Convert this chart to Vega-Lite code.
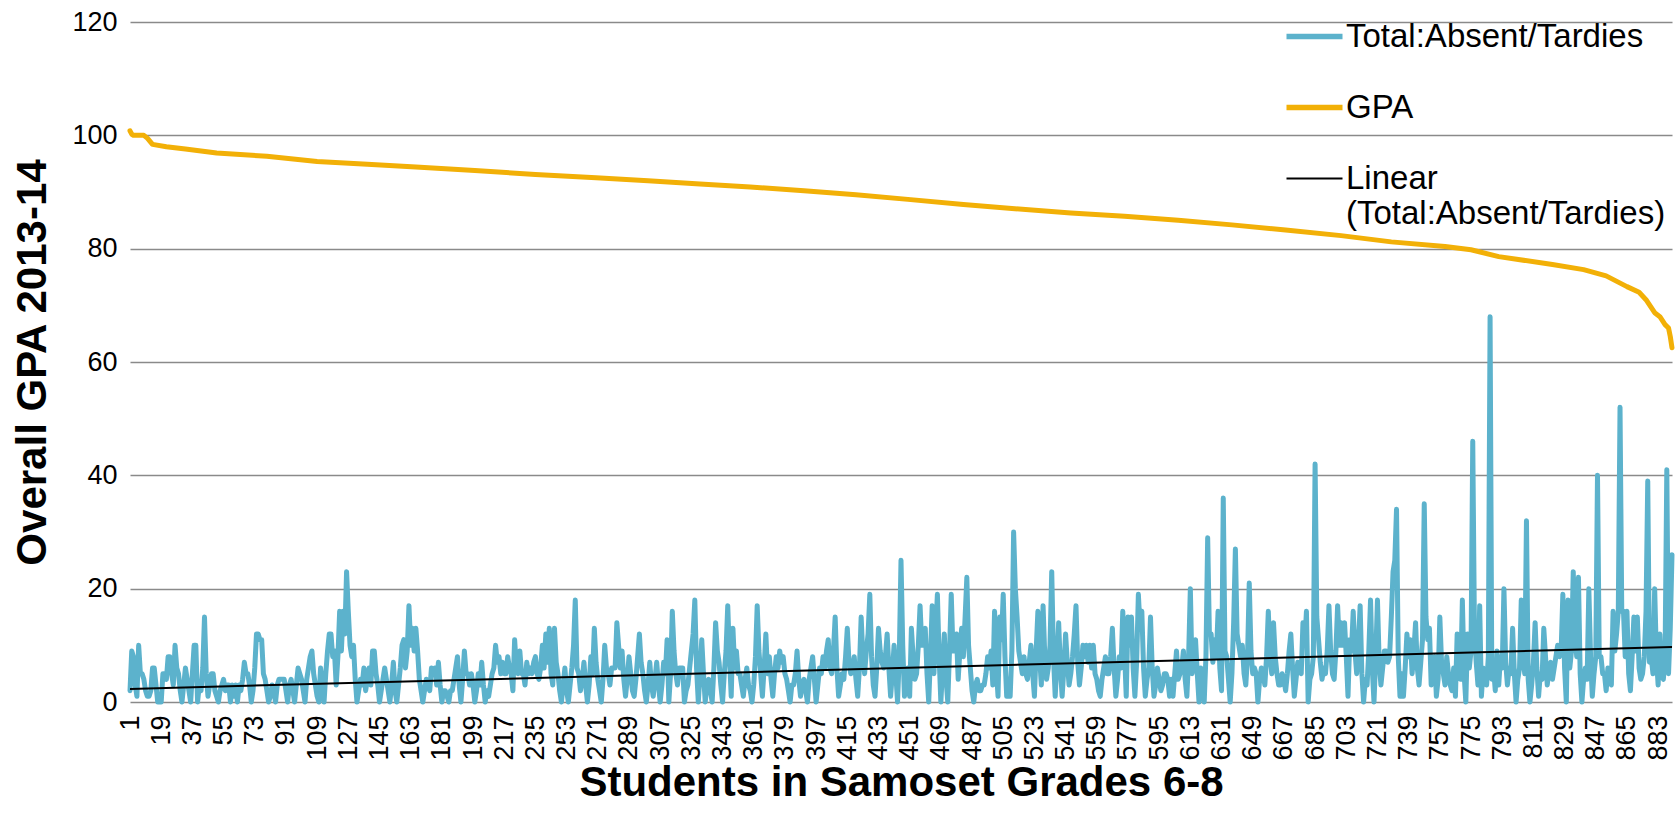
{
"$schema":"https://vega.github.io/schema/vega-lite/v6.json",
"autosize":"none",
"width":1542,"height":680,
"padding":{"left":130,"top":22,"right":7,"bottom":112},
"background":"white",
"config":{"view":{"stroke":null},"font":"Liberation Sans"},
"datasets":{
"abs":[{"i":1,"v":2},{"i":2,"v":9},{"i":3,"v":8},{"i":4,"v":3},{"i":5,"v":1},{"i":6,"v":10},{"i":7,"v":5},{"i":8,"v":5},{"i":9,"v":4},{"i":10,"v":2},
{"i":11,"v":1},{"i":12,"v":1},{"i":13,"v":2},{"i":14,"v":6},{"i":15,"v":6},{"i":16,"v":3},{"i":17,"v":0},{"i":18,"v":0},{"i":19,"v":0},{"i":20,"v":5},
{"i":21,"v":5},{"i":22,"v":4},{"i":23,"v":8},{"i":24,"v":8},{"i":25,"v":5},{"i":26,"v":3},{"i":27,"v":10},{"i":28,"v":6},{"i":29,"v":5},{"i":30,"v":2},
{"i":31,"v":0},{"i":32,"v":3},{"i":33,"v":6},{"i":34,"v":4},{"i":35,"v":2},{"i":36,"v":0},{"i":37,"v":5},{"i":38,"v":10},{"i":39,"v":10},{"i":40,"v":0},
{"i":41,"v":3},{"i":42,"v":2},{"i":43,"v":6},{"i":44,"v":15},{"i":45,"v":5},{"i":46,"v":1},{"i":47,"v":3},{"i":48,"v":5},{"i":49,"v":5},{"i":50,"v":2},
{"i":51,"v":1},{"i":52,"v":0},{"i":53,"v":2},{"i":54,"v":3},{"i":55,"v":4},{"i":56,"v":2},{"i":57,"v":3},{"i":58,"v":3},{"i":59,"v":0},{"i":60,"v":3},
{"i":61,"v":1},{"i":62,"v":3},{"i":63,"v":0},{"i":64,"v":3},{"i":65,"v":2},{"i":66,"v":4},{"i":67,"v":7},{"i":68,"v":5},{"i":69,"v":5},{"i":70,"v":3},
{"i":71,"v":0},{"i":72,"v":2},{"i":73,"v":6},{"i":74,"v":12},{"i":75,"v":12},{"i":76,"v":11},{"i":77,"v":11},{"i":78,"v":5},{"i":79,"v":4},{"i":80,"v":2},
{"i":81,"v":0},{"i":82,"v":1},{"i":83,"v":3},{"i":84,"v":2},{"i":85,"v":0},{"i":86,"v":3},{"i":87,"v":4},{"i":88,"v":4},{"i":89,"v":4},{"i":90,"v":4},
{"i":91,"v":2},{"i":92,"v":0},{"i":93,"v":3},{"i":94,"v":4},{"i":95,"v":2},{"i":96,"v":0},{"i":97,"v":3},{"i":98,"v":6},{"i":99,"v":5},{"i":100,"v":4},
{"i":101,"v":2},{"i":102,"v":0},{"i":103,"v":4},{"i":104,"v":6},{"i":105,"v":8},{"i":106,"v":9},{"i":107,"v":5},{"i":108,"v":3},{"i":109,"v":1},{"i":110,"v":0},
{"i":111,"v":6},{"i":112,"v":3},{"i":113,"v":0},{"i":114,"v":5},{"i":115,"v":9},{"i":116,"v":12},{"i":117,"v":12},{"i":118,"v":8},{"i":119,"v":9},{"i":120,"v":3},
{"i":121,"v":8},{"i":122,"v":16},{"i":123,"v":9},{"i":124,"v":16},{"i":125,"v":12},{"i":126,"v":23},{"i":127,"v":16},{"i":128,"v":10},{"i":129,"v":8},{"i":130,"v":10},
{"i":131,"v":4},{"i":132,"v":0},{"i":133,"v":2},{"i":134,"v":4},{"i":135,"v":3},{"i":136,"v":6},{"i":137,"v":2},{"i":138,"v":4},{"i":139,"v":6},{"i":140,"v":3},
{"i":141,"v":9},{"i":142,"v":9},{"i":143,"v":5},{"i":144,"v":3},{"i":145,"v":0},{"i":146,"v":2},{"i":147,"v":4},{"i":148,"v":6},{"i":149,"v":4},{"i":150,"v":2},
{"i":151,"v":0},{"i":152,"v":3},{"i":153,"v":7},{"i":154,"v":2},{"i":155,"v":0},{"i":156,"v":3},{"i":157,"v":6},{"i":158,"v":10},{"i":159,"v":11},{"i":160,"v":6},
{"i":161,"v":9},{"i":162,"v":17},{"i":163,"v":10},{"i":164,"v":13},{"i":165,"v":9},{"i":166,"v":13},{"i":167,"v":9},{"i":168,"v":4},{"i":169,"v":2},{"i":170,"v":0},
{"i":171,"v":2},{"i":172,"v":4},{"i":173,"v":3},{"i":174,"v":2},{"i":175,"v":6},{"i":176,"v":5},{"i":177,"v":6},{"i":178,"v":3},{"i":179,"v":7},{"i":180,"v":3},
{"i":181,"v":0},{"i":182,"v":2},{"i":183,"v":2},{"i":184,"v":1},{"i":185,"v":0},{"i":186,"v":2},{"i":187,"v":2},{"i":188,"v":4},{"i":189,"v":6},{"i":190,"v":8},
{"i":191,"v":3},{"i":192,"v":0},{"i":193,"v":4},{"i":194,"v":9},{"i":195,"v":5},{"i":196,"v":5},{"i":197,"v":3},{"i":198,"v":5},{"i":199,"v":3},{"i":200,"v":0},
{"i":201,"v":2},{"i":202,"v":5},{"i":203,"v":3},{"i":204,"v":7},{"i":205,"v":3},{"i":206,"v":0},{"i":207,"v":2},{"i":208,"v":1},{"i":209,"v":3},{"i":210,"v":5},
{"i":211,"v":6},{"i":212,"v":10},{"i":213,"v":7},{"i":214,"v":8},{"i":215,"v":5},{"i":216,"v":7},{"i":217,"v":5},{"i":218,"v":5},{"i":219,"v":8},{"i":220,"v":6},
{"i":221,"v":5},{"i":222,"v":2},{"i":223,"v":11},{"i":224,"v":6},{"i":225,"v":5},{"i":226,"v":9},{"i":227,"v":5},{"i":228,"v":5},{"i":229,"v":3},{"i":230,"v":7},
{"i":231,"v":5},{"i":232,"v":6},{"i":233,"v":5},{"i":234,"v":7},{"i":235,"v":8},{"i":236,"v":5},{"i":237,"v":4},{"i":238,"v":6},{"i":239,"v":10},{"i":240,"v":6},
{"i":241,"v":12},{"i":242,"v":7},{"i":243,"v":13},{"i":244,"v":5},{"i":245,"v":3},{"i":246,"v":13},{"i":247,"v":7},{"i":248,"v":5},{"i":249,"v":2},{"i":250,"v":0},
{"i":251,"v":3},{"i":252,"v":6},{"i":253,"v":2},{"i":254,"v":0},{"i":255,"v":3},{"i":256,"v":6},{"i":257,"v":10},{"i":258,"v":18},{"i":259,"v":6},{"i":260,"v":5},
{"i":261,"v":2},{"i":262,"v":4},{"i":263,"v":7},{"i":264,"v":3},{"i":265,"v":0},{"i":266,"v":3},{"i":267,"v":8},{"i":268,"v":5},{"i":269,"v":13},{"i":270,"v":7},
{"i":271,"v":4},{"i":272,"v":2},{"i":273,"v":0},{"i":274,"v":4},{"i":275,"v":10},{"i":276,"v":6},{"i":277,"v":5},{"i":278,"v":3},{"i":279,"v":6},{"i":280,"v":6},
{"i":281,"v":6},{"i":282,"v":14},{"i":283,"v":10},{"i":284,"v":6},{"i":285,"v":9},{"i":286,"v":4},{"i":287,"v":1},{"i":288,"v":4},{"i":289,"v":8},{"i":290,"v":5},
{"i":291,"v":2},{"i":292,"v":1},{"i":293,"v":4},{"i":294,"v":8},{"i":295,"v":12},{"i":296,"v":7},{"i":297,"v":5},{"i":298,"v":2},{"i":299,"v":0},{"i":300,"v":3},
{"i":301,"v":7},{"i":302,"v":3},{"i":303,"v":1},{"i":304,"v":4},{"i":305,"v":7},{"i":306,"v":3},{"i":307,"v":0},{"i":308,"v":3},{"i":309,"v":7},{"i":310,"v":5},
{"i":311,"v":11},{"i":312,"v":0},{"i":313,"v":5},{"i":314,"v":16},{"i":315,"v":9},{"i":316,"v":5},{"i":317,"v":3},{"i":318,"v":6},{"i":319,"v":6},{"i":320,"v":6},
{"i":321,"v":0},{"i":322,"v":2},{"i":323,"v":3},{"i":324,"v":6},{"i":325,"v":9},{"i":326,"v":12},{"i":327,"v":18},{"i":328,"v":6},{"i":329,"v":0},{"i":330,"v":5},
{"i":331,"v":11},{"i":332,"v":5},{"i":333,"v":0},{"i":334,"v":3},{"i":335,"v":4},{"i":336,"v":2},{"i":337,"v":0},{"i":338,"v":6},{"i":339,"v":14},{"i":340,"v":9},
{"i":341,"v":7},{"i":342,"v":3},{"i":343,"v":0},{"i":344,"v":5},{"i":345,"v":9},{"i":346,"v":17},{"i":347,"v":8},{"i":348,"v":1},{"i":349,"v":13},{"i":350,"v":6},
{"i":351,"v":9},{"i":352,"v":5},{"i":353,"v":5},{"i":354,"v":3},{"i":355,"v":1},{"i":356,"v":4},{"i":357,"v":6},{"i":358,"v":3},{"i":359,"v":2},{"i":360,"v":0},
{"i":361,"v":3},{"i":362,"v":8},{"i":363,"v":17},{"i":364,"v":9},{"i":365,"v":5},{"i":366,"v":1},{"i":367,"v":6},{"i":368,"v":12},{"i":369,"v":5},{"i":370,"v":8},
{"i":371,"v":4},{"i":372,"v":1},{"i":373,"v":5},{"i":374,"v":8},{"i":375,"v":6},{"i":376,"v":9},{"i":377,"v":7},{"i":378,"v":8},{"i":379,"v":5},{"i":380,"v":4},
{"i":381,"v":2},{"i":382,"v":0},{"i":383,"v":3},{"i":384,"v":3},{"i":385,"v":5},{"i":386,"v":9},{"i":387,"v":4},{"i":388,"v":1},{"i":389,"v":3},{"i":390,"v":4},
{"i":391,"v":2},{"i":392,"v":0},{"i":393,"v":4},{"i":394,"v":6},{"i":395,"v":8},{"i":396,"v":4},{"i":397,"v":0},{"i":398,"v":3},{"i":399,"v":6},{"i":400,"v":5},
{"i":401,"v":8},{"i":402,"v":6},{"i":403,"v":9},{"i":404,"v":11},{"i":405,"v":6},{"i":406,"v":5},{"i":407,"v":9},{"i":408,"v":15},{"i":409,"v":6},{"i":410,"v":1},
{"i":411,"v":3},{"i":412,"v":5},{"i":413,"v":4},{"i":414,"v":8},{"i":415,"v":13},{"i":416,"v":7},{"i":417,"v":5},{"i":418,"v":6},{"i":419,"v":8},{"i":420,"v":4},
{"i":421,"v":1},{"i":422,"v":6},{"i":423,"v":15},{"i":424,"v":8},{"i":425,"v":5},{"i":426,"v":9},{"i":427,"v":12},{"i":428,"v":19},{"i":429,"v":8},{"i":430,"v":3},
{"i":431,"v":1},{"i":432,"v":6},{"i":433,"v":13},{"i":434,"v":9},{"i":435,"v":7},{"i":436,"v":6},{"i":437,"v":8},{"i":438,"v":12},{"i":439,"v":6},{"i":440,"v":1},
{"i":441,"v":5},{"i":442,"v":10},{"i":443,"v":5},{"i":444,"v":0},{"i":445,"v":8},{"i":446,"v":25},{"i":447,"v":10},{"i":448,"v":1},{"i":449,"v":4},{"i":450,"v":6},
{"i":451,"v":1},{"i":452,"v":13},{"i":453,"v":8},{"i":454,"v":4},{"i":455,"v":5},{"i":456,"v":10},{"i":457,"v":17},{"i":458,"v":10},{"i":459,"v":12},{"i":460,"v":13},
{"i":461,"v":5},{"i":462,"v":0},{"i":463,"v":8},{"i":464,"v":17},{"i":465,"v":5},{"i":466,"v":12},{"i":467,"v":19},{"i":468,"v":8},{"i":469,"v":0},{"i":470,"v":6},
{"i":471,"v":12},{"i":472,"v":4},{"i":473,"v":0},{"i":474,"v":9},{"i":475,"v":19},{"i":476,"v":9},{"i":477,"v":11},{"i":478,"v":12},{"i":479,"v":4},{"i":480,"v":9},
{"i":481,"v":13},{"i":482,"v":8},{"i":483,"v":15},{"i":484,"v":22},{"i":485,"v":10},{"i":486,"v":6},{"i":487,"v":2},{"i":488,"v":0},{"i":489,"v":3},{"i":490,"v":4},
{"i":491,"v":2},{"i":492,"v":2},{"i":493,"v":3},{"i":494,"v":3},{"i":495,"v":5},{"i":496,"v":8},{"i":497,"v":6},{"i":498,"v":9},{"i":499,"v":3},{"i":500,"v":16},
{"i":501,"v":6},{"i":502,"v":1},{"i":503,"v":15},{"i":504,"v":11},{"i":505,"v":19},{"i":506,"v":8},{"i":507,"v":1},{"i":508,"v":4},{"i":509,"v":1},{"i":510,"v":9},
{"i":511,"v":30},{"i":512,"v":20},{"i":513,"v":15},{"i":514,"v":9},{"i":515,"v":7},{"i":516,"v":5},{"i":517,"v":8},{"i":518,"v":5},{"i":519,"v":4},{"i":520,"v":7},
{"i":521,"v":10},{"i":522,"v":5},{"i":523,"v":1},{"i":524,"v":9},{"i":525,"v":16},{"i":526,"v":8},{"i":527,"v":3},{"i":528,"v":17},{"i":529,"v":8},{"i":530,"v":4},
{"i":531,"v":6},{"i":532,"v":10},{"i":533,"v":23},{"i":534,"v":8},{"i":535,"v":1},{"i":536,"v":7},{"i":537,"v":14},{"i":538,"v":6},{"i":539,"v":1},{"i":540,"v":6},
{"i":541,"v":12},{"i":542,"v":7},{"i":543,"v":3},{"i":544,"v":5},{"i":545,"v":8},{"i":546,"v":12},{"i":547,"v":17},{"i":548,"v":7},{"i":549,"v":3},{"i":550,"v":6},
{"i":551,"v":10},{"i":552,"v":8},{"i":553,"v":10},{"i":554,"v":7},{"i":555,"v":10},{"i":556,"v":6},{"i":557,"v":10},{"i":558,"v":5},{"i":559,"v":4},{"i":560,"v":2},
{"i":561,"v":1},{"i":562,"v":4},{"i":563,"v":6},{"i":564,"v":8},{"i":565,"v":5},{"i":566,"v":5},{"i":567,"v":8},{"i":568,"v":13},{"i":569,"v":6},{"i":570,"v":1},
{"i":571,"v":4},{"i":572,"v":8},{"i":573,"v":6},{"i":574,"v":16},{"i":575,"v":9},{"i":576,"v":1},{"i":577,"v":15},{"i":578,"v":10},{"i":579,"v":15},{"i":580,"v":6},
{"i":581,"v":1},{"i":582,"v":7},{"i":583,"v":19},{"i":584,"v":13},{"i":585,"v":16},{"i":586,"v":6},{"i":587,"v":1},{"i":588,"v":4},{"i":589,"v":6},{"i":590,"v":15},
{"i":591,"v":6},{"i":592,"v":1},{"i":593,"v":3},{"i":594,"v":6},{"i":595,"v":4},{"i":596,"v":2},{"i":597,"v":3},{"i":598,"v":5},{"i":599,"v":5},{"i":600,"v":4},
{"i":601,"v":1},{"i":602,"v":4},{"i":603,"v":1},{"i":604,"v":5},{"i":605,"v":9},{"i":606,"v":4},{"i":607,"v":5},{"i":608,"v":6},{"i":609,"v":9},{"i":610,"v":4},
{"i":611,"v":1},{"i":612,"v":8},{"i":613,"v":20},{"i":614,"v":5},{"i":615,"v":7},{"i":616,"v":11},{"i":617,"v":5},{"i":618,"v":0},{"i":619,"v":6},{"i":620,"v":3},
{"i":621,"v":0},{"i":622,"v":8},{"i":623,"v":29},{"i":624,"v":12},{"i":625,"v":12},{"i":626,"v":7},{"i":627,"v":11},{"i":628,"v":8},{"i":629,"v":16},{"i":630,"v":6},
{"i":631,"v":2},{"i":632,"v":36},{"i":633,"v":9},{"i":634,"v":8},{"i":635,"v":4},{"i":636,"v":0},{"i":637,"v":5},{"i":638,"v":14},{"i":639,"v":27},{"i":640,"v":12},
{"i":641,"v":10},{"i":642,"v":8},{"i":643,"v":10},{"i":644,"v":5},{"i":645,"v":3},{"i":646,"v":8},{"i":647,"v":21},{"i":648,"v":9},{"i":649,"v":5},{"i":650,"v":6},
{"i":651,"v":5},{"i":652,"v":0},{"i":653,"v":4},{"i":654,"v":6},{"i":655,"v":5},{"i":656,"v":3},{"i":657,"v":8},{"i":658,"v":16},{"i":659,"v":8},{"i":660,"v":5},
{"i":661,"v":14},{"i":662,"v":8},{"i":663,"v":5},{"i":664,"v":3},{"i":665,"v":3},{"i":666,"v":5},{"i":667,"v":4},{"i":668,"v":2},{"i":669,"v":5},{"i":670,"v":9},
{"i":671,"v":12},{"i":672,"v":6},{"i":673,"v":1},{"i":674,"v":4},{"i":675,"v":7},{"i":676,"v":6},{"i":677,"v":5},{"i":678,"v":14},{"i":679,"v":10},{"i":680,"v":16},
{"i":681,"v":0},{"i":682,"v":4},{"i":683,"v":5},{"i":684,"v":8},{"i":685,"v":42},{"i":686,"v":15},{"i":687,"v":11},{"i":688,"v":7},{"i":689,"v":4},{"i":690,"v":6},
{"i":691,"v":5},{"i":692,"v":9},{"i":693,"v":17},{"i":694,"v":9},{"i":695,"v":5},{"i":696,"v":4},{"i":697,"v":9},{"i":698,"v":17},{"i":699,"v":10},{"i":700,"v":14},
{"i":701,"v":10},{"i":702,"v":14},{"i":703,"v":8},{"i":704,"v":1},{"i":705,"v":11},{"i":706,"v":9},{"i":707,"v":16},{"i":708,"v":9},{"i":709,"v":5},{"i":710,"v":10},
{"i":711,"v":17},{"i":712,"v":5},{"i":713,"v":0},{"i":714,"v":4},{"i":715,"v":3},{"i":716,"v":9},{"i":717,"v":18},{"i":718,"v":6},{"i":719,"v":0},{"i":720,"v":8},
{"i":721,"v":18},{"i":722,"v":7},{"i":723,"v":3},{"i":724,"v":6},{"i":725,"v":9},{"i":726,"v":9},{"i":727,"v":7},{"i":728,"v":8},{"i":729,"v":15},{"i":730,"v":23},
{"i":731,"v":25},{"i":732,"v":34},{"i":733,"v":8},{"i":734,"v":1},{"i":735,"v":5},{"i":736,"v":1},{"i":737,"v":6},{"i":738,"v":12},{"i":739,"v":8},{"i":740,"v":11},
{"i":741,"v":5},{"i":742,"v":9},{"i":743,"v":14},{"i":744,"v":6},{"i":745,"v":3},{"i":746,"v":7},{"i":747,"v":11},{"i":748,"v":35},{"i":749,"v":15},{"i":750,"v":11},
{"i":751,"v":13},{"i":752,"v":3},{"i":753,"v":6},{"i":754,"v":8},{"i":755,"v":1},{"i":756,"v":4},{"i":757,"v":15},{"i":758,"v":7},{"i":759,"v":5},{"i":760,"v":3},
{"i":761,"v":8},{"i":762,"v":5},{"i":763,"v":3},{"i":764,"v":2},{"i":765,"v":6},{"i":766,"v":1},{"i":767,"v":12},{"i":768,"v":7},{"i":769,"v":4},{"i":770,"v":18},
{"i":771,"v":5},{"i":772,"v":0},{"i":773,"v":12},{"i":774,"v":6},{"i":775,"v":9},{"i":776,"v":46},{"i":777,"v":12},{"i":778,"v":7},{"i":779,"v":3},{"i":780,"v":17},
{"i":781,"v":1},{"i":782,"v":6},{"i":783,"v":5},{"i":784,"v":3},{"i":785,"v":8},{"i":786,"v":68},{"i":787,"v":4},{"i":788,"v":6},{"i":789,"v":2},{"i":790,"v":9},
{"i":791,"v":3},{"i":792,"v":8},{"i":793,"v":6},{"i":794,"v":20},{"i":795,"v":7},{"i":796,"v":3},{"i":797,"v":6},{"i":798,"v":5},{"i":799,"v":13},{"i":800,"v":5},
{"i":801,"v":0},{"i":802,"v":4},{"i":803,"v":6},{"i":804,"v":18},{"i":805,"v":8},{"i":806,"v":5},{"i":807,"v":32},{"i":808,"v":4},{"i":809,"v":0},{"i":810,"v":3},
{"i":811,"v":7},{"i":812,"v":14},{"i":813,"v":6},{"i":814,"v":1},{"i":815,"v":5},{"i":816,"v":4},{"i":817,"v":13},{"i":818,"v":8},{"i":819,"v":3},{"i":820,"v":6},
{"i":821,"v":7},{"i":822,"v":4},{"i":823,"v":6},{"i":824,"v":8},{"i":825,"v":10},{"i":826,"v":8},{"i":827,"v":9},{"i":828,"v":19},{"i":829,"v":6},{"i":830,"v":0},
{"i":831,"v":18},{"i":832,"v":6},{"i":833,"v":9},{"i":834,"v":23},{"i":835,"v":12},{"i":836,"v":8},{"i":837,"v":22},{"i":838,"v":5},{"i":839,"v":0},{"i":840,"v":4},
{"i":841,"v":6},{"i":842,"v":4},{"i":843,"v":20},{"i":844,"v":8},{"i":845,"v":1},{"i":846,"v":5},{"i":847,"v":8},{"i":848,"v":40},{"i":849,"v":8},{"i":850,"v":8},
{"i":851,"v":5},{"i":852,"v":5},{"i":853,"v":2},{"i":854,"v":6},{"i":855,"v":4},{"i":856,"v":3},{"i":857,"v":16},{"i":858,"v":9},{"i":859,"v":12},{"i":860,"v":16},
{"i":861,"v":52},{"i":862,"v":16},{"i":863,"v":16},{"i":864,"v":8},{"i":865,"v":16},{"i":866,"v":5},{"i":867,"v":2},{"i":868,"v":8},{"i":869,"v":15},{"i":870,"v":9},
{"i":871,"v":15},{"i":872,"v":6},{"i":873,"v":4},{"i":874,"v":5},{"i":875,"v":8},{"i":876,"v":16},{"i":877,"v":39},{"i":878,"v":7},{"i":879,"v":8},{"i":880,"v":5},
{"i":881,"v":20},{"i":882,"v":8},{"i":883,"v":3},{"i":884,"v":12},{"i":885,"v":5},{"i":886,"v":4},{"i":887,"v":8},{"i":888,"v":41},{"i":889,"v":5},{"i":890,"v":13},
{"i":891,"v":26}],
"gpa":[{"i":1,"g":100.8},{"i":2,"g":100.2},{"i":3,"g":100},{"i":9,"g":100},{"i":11,"g":99.5},{"i":14,"g":98.4},{"i":22,"g":98.0},{"i":33,"g":97.6},{"i":51,"g":96.9},{"i":80,"g":96.3},{"i":109,"g":95.4},{"i":138,"g":94.9},{"i":166,"g":94.4},{"i":200,"g":93.8},{"i":235,"g":93.1},{"i":270,"g":92.5},{"i":300,"g":92.0},{"i":330,"g":91.4},{"i":359,"g":90.9},{"i":390,"g":90.2},{"i":420,"g":89.5},{"i":450,"g":88.7},{"i":482,"g":87.8},{"i":510,"g":87.1},{"i":544,"g":86.3},{"i":575,"g":85.7},{"i":606,"g":85.0},{"i":637,"g":84.2},{"i":668,"g":83.3},{"i":700,"g":82.3},{"i":729,"g":81.2},{"i":760,"g":80.4},{"i":775,"g":79.8},{"i":791,"g":78.6},{"i":822,"g":77.2},{"i":840,"g":76.3},{"i":853,"g":75.2},{"i":865,"g":73.3},{"i":872,"g":72.3},{"i":876,"g":71.0},{"i":881,"g":68.7},{"i":884,"g":68.0},{"i":887,"g":66.6},{"i":889,"g":66.0},{"i":890,"g":64.5},{"i":891,"g":62.5}],
"trend":[{"i":1,"t":2.3},{"i":891,"t":9.7}]
},
"encoding":{
"x":{"field":"i","type":"quantitative","scale":{"domain":[1,891],"nice":false,"zero":false},
 "axis":{"title":"Students in Samoset Grades 6-8","values":[1,19,37,55,73,91,109,127,145,163,181,199,217,235,253,271,289,307,325,343,361,379,397,415,433,451,469,487,505,523,541,559,577,595,613,631,649,667,685,703,721,739,757,775,793,811,829,847,865,883],
 "labelAngle":270,"labelFontSize":27,"labelFont":"Liberation Sans","labelColor":"#000000","labelPadding":13,"labelOverlap":false,"labelFlush":false,"labelBound":false,
 "ticks":false,"domain":false,"grid":false,
 "titleFontSize":42,"titleFont":"Liberation Sans","titleFontWeight":"bold","titleColor":"#000000","titleY":80,"titleBaseline":"middle"}}
},
"layer":[
{"data":{"name":"abs"},"mark":{"type":"line","strokeWidth":5,"strokeJoin":"round","strokeCap":"round"},
 "encoding":{
  "y":{"field":"v","type":"quantitative","scale":{"domain":[0,120],"nice":false},
   "axis":{"title":"Overall GPA 2013-14","values":[0,20,40,60,80,100,120],"labelFontSize":27,"labelFont":"Liberation Sans","labelColor":"#000000","labelPadding":13,
   "ticks":false,"domain":false,"gridColor":"#8a8a8a","gridWidth":1.7,"gridOpacity":1,
   "titleFontSize":42,"titleFont":"Liberation Sans","titleFontWeight":"bold","titleColor":"#000000","titleX":-98,"titleY":340,"titleAngle":270,"titleBaseline":"middle","titleAlign":"center"}},
  "color":{"datum":"Total:Absent/Tardies","type":"nominal",
   "scale":{"domain":["Total:Absent/Tardies","GPA","Linear (Total:Absent/Tardies)"],"range":["#5cb2cc","#f2b007","#000000"]},
   "legend":{"orient":"none","legendX":1168,"legendY":-2,"title":null,"padding":0,"symbolType":"stroke","symbolSize":3136,"symbolStrokeWidth":5,
    "labelFontSize":33,"labelFont":"Liberation Sans","labelColor":"#000000","labelOffset":15,"labelLimit":600,"rowPadding":37,
    "labelExpr":"datum.label == 'Linear (Total:Absent/Tardies)' ? ['Linear', '(Total:Absent/Tardies)'] : datum.label",
    "encode":{"symbols":{"update":{"strokeWidth":{"signal":"datum.value == 'Linear (Total:Absent/Tardies)' ? 1.8 : 5.5"}}}}}}
 }},
{"data":{"name":"gpa"},"mark":{"type":"line","strokeWidth":5,"strokeJoin":"round","strokeCap":"round"},
 "encoding":{"y":{"field":"g","type":"quantitative"},"color":{"datum":"GPA","type":"nominal"}}},
{"data":{"name":"trend"},"mark":{"type":"line","strokeWidth":2},
 "encoding":{"y":{"field":"t","type":"quantitative"},"color":{"datum":"Linear (Total:Absent/Tardies)","type":"nominal"}}}
]
}
